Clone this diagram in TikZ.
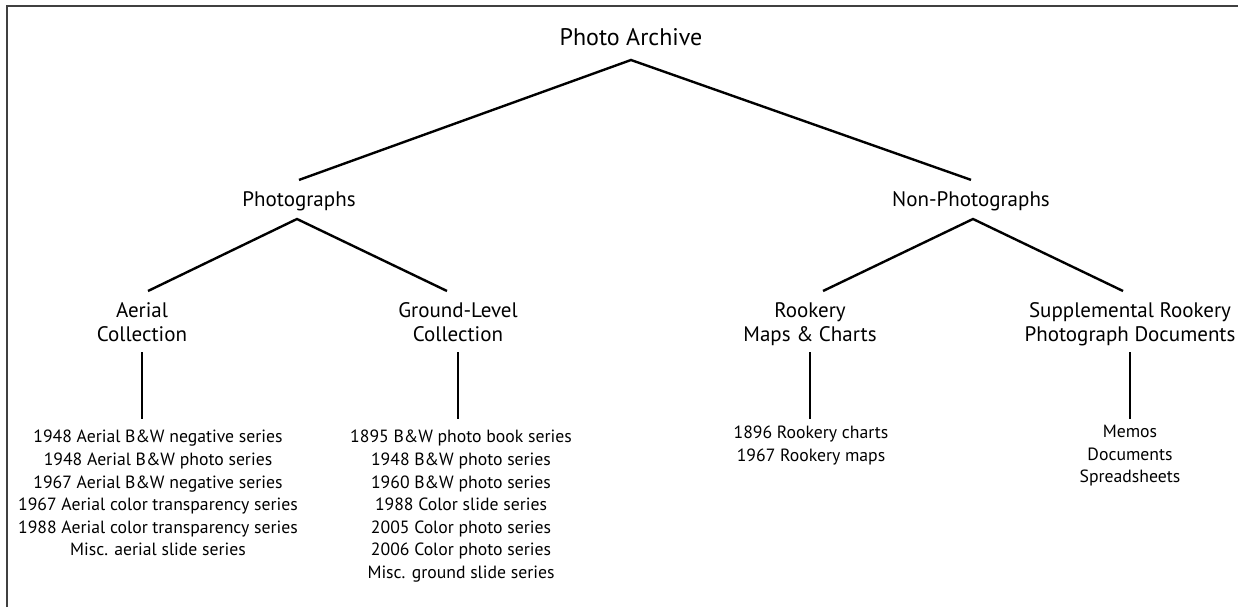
\documentclass[tikz,border=0pt]{standalone}
\usepackage{fontspec}
\setmainfont{PT Sans}
\tikzset{
  head/.style={inner sep=0pt, anchor=base, font=\fontsize{21}{25}\selectfont},
  sub/.style={inner sep=0pt, anchor=north, align=center, font=\fontsize{21}{24.3}\selectfont},
  leaf/.style={inner sep=0pt, anchor=north, align=center, font=\fontsize{17.7}{22.6}\selectfont},
}
\begin{document}
\begin{tikzpicture}[x=1pt,y=-1pt,line width=2.4pt]
\useasboundingbox (0,0) rectangle (1238,607);
\draw[line width=1.3pt,black!75](7,607)--(7,6)--(1238,6);
\node[head,font=\fontsize{24}{28}\selectfont] (root) at (631,46){Photo Archive};
\node[head] (photo) at (299,206){Photographs};
\node[head] (nonphoto) at (971,206){Non-Photographs};
\node[sub] (aerial) at (142,301){Aerial\\Collection};
\node[sub] (ground) at (458,301){Ground-Level\\Collection};
\node[sub] (rookery) at (810,301){Rookery\\Maps \& Charts};
\node[sub] (suppl) at (1130,301){Supplemental Rookery\\Photograph Documents};
\node[leaf] (aerialList) at (158,429){1948 Aerial B\&W negative series\\1948 Aerial B\&W photo series\\
  1967 Aerial B\&W negative series\\1967 Aerial color transparency series\\
  1988 Aerial color transparency series\\Misc. aerial slide series};
\node[leaf] (groundList) at (461,429){1895 B\&W photo book series\\1948 B\&W photo series\\
  1960 B\&W photo series\\1988 Color slide series\\2005 Color photo series\\
  2006 Color photo series\\Misc. ground slide series};
\node[leaf] (rookeryList) at (811,425){1896 Rookery charts\\1967 Rookery maps};
\node[leaf] (supplList) at (1130,424){Memos\\Documents\\Spreadsheets};
\draw([yshift=10pt]photo.north)--([yshift=-14pt]root.base)--([yshift=10pt]nonphoto.north);
\draw([xshift=6pt,yshift=10pt]aerial.north)--([xshift=-2pt,yshift=-13pt]photo.base)
  --([xshift=-11pt,yshift=10pt]ground.north);
\draw([xshift=13pt,yshift=10pt]rookery.north)--([xshift=2pt,yshift=-13pt]nonphoto.base)
  --([xshift=-7pt,yshift=10pt]suppl.north);
\foreach \a/\b/\s in {aerial/aerialList/10, ground/groundList/10, rookery/rookeryList/6, suppl/supplList/5}
{
    \draw[shorten >=\s pt]([yshift=-51pt]\a.north)--(\a.north |- \b.north);
}
\end{tikzpicture}
\end{document}
